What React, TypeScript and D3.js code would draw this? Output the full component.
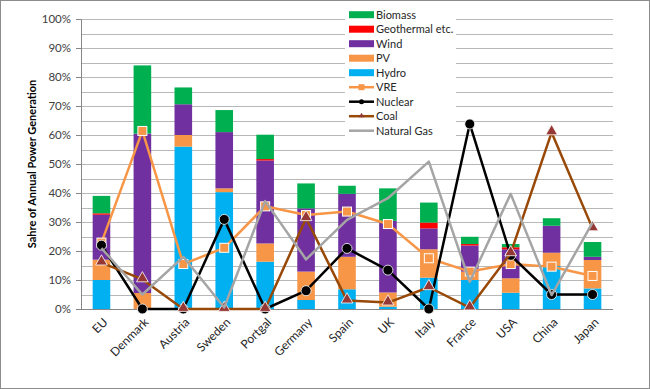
import React, { useEffect, useRef } from "react";
import * as d3 from "d3";

const countries = ["EU", "Denmark", "Austria", "Sweden", "Portgal", "Germany", "Spain", "UK", "Italy", "France", "USA", "China", "Japan"];

// stacked bars (% of generation)
const hydro = [10, 0, 56, 40.3, 16.3, 3.1, 6.8, 0.8, 10.8, 10, 5.6, 14.8, 7.1];
const pv = [7, 5.5, 4, 1.3, 6.3, 9.8, 11.2, 4.9, 9.8, 2.9, 5, 4.6, 9.8];
const wind = [15.5, 55, 10.6, 19.4, 28.6, 21.8, 21.7, 24.7, 7.2, 9, 10, 9.3, 1.1];
const geothermal = [0.5, 0, 0, 0, 0.5, 0, 0, 0, 2, 0.5, 0.7, 0, 0];
const biomass = [6, 23.5, 5.8, 7.6, 8.4, 8.6, 2.8, 11.2, 6.9, 2.5, 1.1, 2.6, 5.1];

// line series
const vre = [22.9, 61.4, 15.5, 21.1, 35.4, 32.4, 33.6, 29.3, 17.5, 12.9, 15.5, 14.6, 11.4];
const nuclear = [22, 0, 0, 30.9, 0, 6.3, 20.9, 13.4, 0, 63.8, 18.5, 5, 5];
const coal = [16, 10.2, 0, 0, 0, 31.3, 2.9, 2.2, 7.5, 0.5, 19.2, 60.9, 27.8];
const gas = [21, 5, 18, 0.5, 37.2, 17.1, 30.7, 38.2, 50.8, 9.4, 39.7, 4.8, 29.8];

const yTicks = [0, 10, 20, 30, 40, 50, 60, 70, 80, 90, 100];

const barSeries = [
  { name: "Hydro", values: hydro, color: "#00B0F0" },
  { name: "PV", values: pv, color: "#F79646" },
  { name: "Wind", values: wind, color: "#7030A0" },
  { name: "Geothermal etc.", values: geothermal, color: "#FF0000" },
  { name: "Biomass", values: biomass, color: "#00B050" },
];

const lineSeries = [
  { name: "VRE", values: vre, color: "#F79646", marker: "square", mfill: "#F79646" },
  { name: "Nuclear", values: nuclear, color: "#000000", marker: "circle", mfill: "#000000" },
  { name: "Coal", values: coal, color: "#984807", marker: "triangle", mfill: "#953735" },
  { name: "Natural Gas", values: gas, color: "#A5A5A5", marker: "none", mfill: "none" },
];

const W = 650, H = 389;
const margin = { top: 19, right: 37, bottom: 80, left: 81 };
const FONT = "Lato, 'Open Sans', sans-serif";

function App() {
  const ref = useRef<SVGSVGElement>(null);

  useEffect(() => {
    const svg = d3.select(ref.current);
    svg.selectAll("*").remove();
    const w = W - margin.left - margin.right;
    const h = H - margin.top - margin.bottom;

    svg.append("rect").attr("x", 0.5).attr("y", 0.5).attr("width", W - 1).attr("height", H - 1)
      .attr("fill", "#fff").attr("stroke", "#8c8c8c");

    const g = svg.append("g").attr("transform", `translate(${margin.left},${margin.top})`);

    const x = d3.scaleBand().domain(countries).range([0, w]).paddingInner(0.57).paddingOuter(0.285);
    const xc = d3.scaleBand().domain(countries).range([0, w]);
    const y = d3.scaleLinear().domain([0, 100]).range([h, 0]);

    // gridlines every 5%
    g.selectAll(".grid").data(d3.range(5, 101, 5)).join("line")
      .attr("x1", 0).attr("x2", w)
      .attr("y1", d => Math.round(y(d)) + 0.5).attr("y2", d => Math.round(y(d)) + 0.5)
      .attr("stroke", "#B8B8B8").attr("stroke-width", 1);

    // stacked bars
    const stackData = countries.map((c, i) => {
      const row: any = { c };
      barSeries.forEach(s => (row[s.name] = s.values[i]));
      return row;
    });
    const stacked = d3.stack().keys(barSeries.map(s => s.name))(stackData);
    stacked.forEach((layer, li) => {
      g.append("g").selectAll("rect").data(layer).join("rect")
        .attr("x", (d: any) => x(d.data.c)!)
        .attr("width", x.bandwidth())
        .attr("y", d => y(d[1]))
        .attr("height", d => Math.max(0, y(d[0]) - y(d[1])))
        .attr("fill", barSeries[li].color);
    });

    // legend box (covers gridlines)
    const lg = svg.append("g").attr("transform", "translate(345,6)");
    lg.append("rect").attr("x", 0).attr("y", 0).attr("width", 111).attr("height", 136).attr("fill", "#fff");

    // axes
    const yAxis = g.append("g").call(d3.axisLeft(y).tickValues(yTicks).tickSize(5).tickFormat(d => `${d}%`));
    yAxis.select(".domain").attr("stroke", "#868686");
    yAxis.selectAll(".tick line").attr("stroke", "#868686");
    yAxis.selectAll("text").attr("font-family", FONT).attr("font-size", 11.5).attr("fill", "#404040").attr("dx", -2);

    g.append("line").attr("x1", 0).attr("x2", w).attr("y1", h + 0.5).attr("y2", h + 0.5).attr("stroke", "#868686");

    g.append("g").selectAll("text").data(countries).join("text")
      .attr("transform", d => `translate(${xc(d)! + xc.bandwidth() / 2 + 4},${h + 11}) rotate(-45)`)
      .attr("text-anchor", "end")
      .attr("font-family", FONT).attr("font-size", 12).attr("fill", "#262626")
      .attr("dy", "0.35em")
      .text(d => d);

    // lines
    const cx = (i: number) => xc(countries[i])! + xc.bandwidth() / 2;
    lineSeries.forEach(s => {
      const line = d3.line<number>().x((_, i) => cx(i)).y(d => y(d));
      g.append("path").datum(s.values).attr("d", line)
        .attr("fill", "none").attr("stroke", s.color).attr("stroke-width", 2.5)
        .attr("stroke-linejoin", "round");
      const mg = g.append("g");
      s.values.forEach((v, i) => {
        if (s.marker === "circle") {
          mg.append("circle").attr("cx", cx(i)).attr("cy", y(v)).attr("r", 5)
            .attr("fill", s.mfill).attr("stroke", "#fff").attr("stroke-width", 0.8);
        } else if (s.marker === "square") {
          mg.append("rect").attr("x", cx(i) - 4.5).attr("y", y(v) - 4.5).attr("width", 9).attr("height", 9)
            .attr("fill", s.mfill).attr("stroke", "#fff").attr("stroke-width", 1);
        } else if (s.marker === "triangle") {
          mg.append("path").attr("d", d3.symbol(d3.symbolTriangle, 60)())
            .attr("transform", `translate(${cx(i)},${y(v) - 1})`)
            .attr("fill", s.mfill).attr("stroke", "#fff").attr("stroke-width", 0.8);
        }
      });
    });

    // y axis title
    svg.append("text")
      .attr("transform", `translate(36,${margin.top + h / 2}) rotate(-90)`)
      .attr("text-anchor", "middle")
      .attr("font-family", FONT).attr("font-size", 11).attr("font-weight", "bold").attr("fill", "#000")
      .text("Sahre of Annual Power Generation");

    // legend entries
    const legendItems = [
      ...barSeries.slice().reverse().map(s => ({ name: s.name, color: s.color, kind: "bar", marker: "none", mfill: "none" })),
      ...lineSeries.map(s => ({ name: s.name, color: s.color, kind: "line", marker: s.marker, mfill: s.mfill })),
    ];
    legendItems.forEach((it, i) => {
      const ly = 8.7 + i * 14.5;
      const r = lg.append("g").attr("transform", `translate(0,${ly})`);
      if (it.kind === "bar") {
        r.append("rect").attr("x", 4).attr("y", -3.5).attr("width", 25).attr("height", 7).attr("fill", it.color);
      } else {
        r.append("line").attr("x1", 4).attr("x2", 29).attr("y1", 0).attr("y2", 0)
          .attr("stroke", it.color).attr("stroke-width", 2.5);
        if (it.marker === "square") {
          r.append("rect").attr("x", 13.5).attr("y", -3).attr("width", 6).attr("height", 6).attr("fill", it.mfill);
        } else if (it.marker === "circle") {
          r.append("circle").attr("cx", 16.5).attr("cy", 0).attr("r", 2.5).attr("fill", it.mfill);
        } else if (it.marker === "triangle") {
          r.append("path").attr("d", d3.symbol(d3.symbolTriangle, 12)()).attr("transform", "translate(16.5,-0.5)").attr("fill", it.mfill);
        }
      }
      r.append("text").attr("x", 31).attr("y", 0).attr("dy", "0.35em")
        .attr("font-family", FONT).attr("font-size", 11).attr("fill", "#262626").text(it.name);
    });
  }, []);

  return (
    <div style={{ position: "absolute", left: 0, top: 0 }}>
      <svg ref={ref} width={W} height={H} style={{ display: "block" }} />
    </div>
  );
}

export default App;
